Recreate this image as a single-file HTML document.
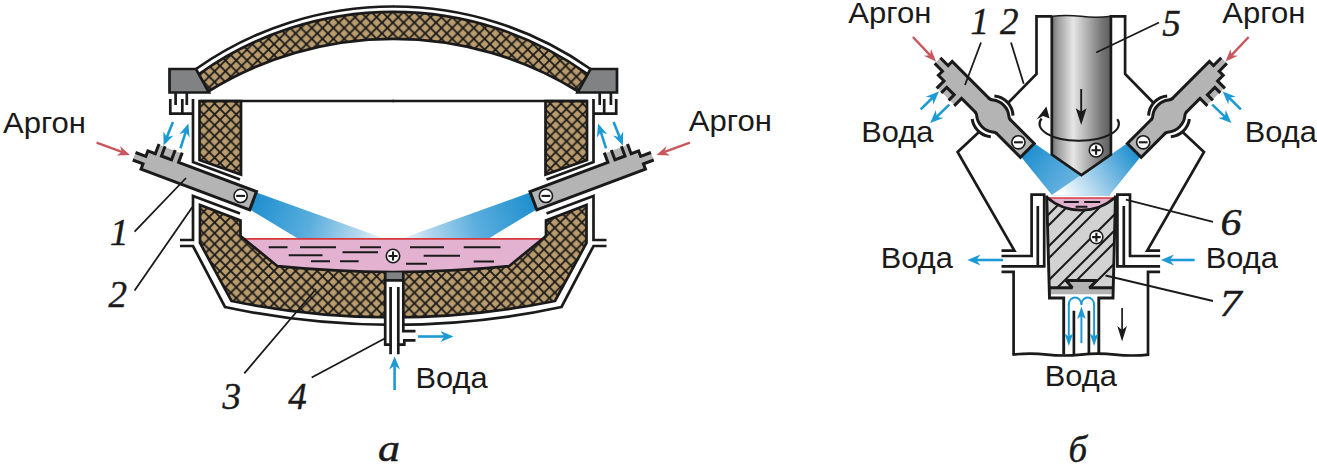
<!DOCTYPE html>
<html><head><meta charset="utf-8">
<style>
html,body{margin:0;padding:0;background:#fff;}
body{width:1317px;height:467px;overflow:hidden;}
svg{display:block;}
.sans{font-family:"Liberation Sans",sans-serif;font-size:29.8px;fill:#1a1a1a;}
.ser{font-family:"Liberation Serif",serif;font-style:italic;font-size:37px;fill:#1a1a1a;stroke:#1a1a1a;stroke-width:0.45px;}
.k{stroke:#1a1a1a;stroke-width:2.7;fill:none;stroke-linecap:butt;stroke-linejoin:miter;}
.ke{stroke:#1a1a1a;stroke-width:3.0;fill:none;stroke-linecap:butt;stroke-linejoin:miter;}
.kt{stroke:#1a1a1a;stroke-width:1.8;fill:none;}
</style></head><body>
<svg width="1317" height="467" viewBox="0 0 1317 467">
<defs>
<pattern id="hatch" width="10.8" height="10.8" patternUnits="userSpaceOnUse" x="4" y="1">
<rect width="10.8" height="10.8" fill="#b99b6c"/>
<path d="M-1,-1 L11.8,11.8 M-1,11.8 L11.8,-1" stroke="#1a1a1a" stroke-width="1.8" fill="none"/>
</pattern>
<linearGradient id="beamL" gradientUnits="userSpaceOnUse" x1="253" y1="201" x2="383" y2="246">
<stop offset="0" stop-color="#1f8fcf"/><stop offset="0.45" stop-color="#5aaedd"/><stop offset="0.8" stop-color="#b5d8ee"/><stop offset="1" stop-color="#f4fafd"/>
</linearGradient>
<linearGradient id="beamR" gradientUnits="userSpaceOnUse" x1="1027" y1="150" x2="1098" y2="199">
<stop offset="0" stop-color="#1f8fcf"/><stop offset="0.3" stop-color="#62b0de"/><stop offset="0.62" stop-color="#acd4ed"/><stop offset="1" stop-color="#ffffff"/>
</linearGradient>
<linearGradient id="beamR1" gradientUnits="userSpaceOnUse" x1="1027" y1="150" x2="1098" y2="199">
<stop offset="0" stop-color="#1f8fcf"/><stop offset="0.4" stop-color="#4fa6da"/><stop offset="1" stop-color="#8cc4e8"/>
</linearGradient>
<linearGradient id="rod" x1="0" y1="0" x2="1" y2="0">
<stop offset="0" stop-color="#6e6e6e"/><stop offset="0.1" stop-color="#9c9c9c"/><stop offset="0.36" stop-color="#e6e6e6"/><stop offset="0.6" stop-color="#b0b0b0"/><stop offset="0.85" stop-color="#757575"/><stop offset="1" stop-color="#5e5e5e"/>
</linearGradient>
<!-- electrode, tip at origin, body along -x, water jacket on -y side -->
<g id="elec">
<path d="M0,-9.75 L-83.2,-9.75 L-83.2,-19.4 L-108,-19.4 L-108,-9.75 L-116,-9.75 L-116,-4 L-127,-4 L-127,4 L-116,4 L-116,9.75 L0,9.75 Z" fill="#b4b4b4"/>
<path class="ke" d="M-83.2,-20.2 L-83.2,-9.75 L0,-9.75 L0,9.75 L-116,9.75 L-116,4 L-127,4 M-127,-4 L-116,-4 L-116,-9.75 L-108,-9.75 L-108,-20.2"/>
</g>
</defs>
<rect width="1317" height="467" fill="#fff"/>

<g id="A">
<path d="M199,74 A334.5,334.5 0 0 1 587.5,74 L577.5,91 A351.5,351.5 0 0 0 209,91 Z" fill="url(#hatch)"/>
<path class="k" style="stroke-width:2.7" d="M199,74 A334.5,334.5 0 0 1 587.5,74 M577.5,91 A351.5,351.5 0 0 0 209,91"/>
<path d="M200,205 L240.5,220.5 V236 L277.5,266.2 A1158,1158 0 0 0 509,266.2 L546,236 V220.5 L586.5,205 V243 L555,301 A810,810 0 0 1 231.5,301 L200,243 Z" fill="url(#hatch)"/>
<path class="k" d="M240.5,236 V220.5 L200,205 V243 L231.5,301 A810,810 0 0 0 555,301 L586.5,243 V205 L546,220.5 V236"/>
<g id="Ahalf">
 <path class="k" style="stroke-width:2.7" d="M196,69 A341.7,341.7 0 0 1 393.5,6.5"/>
 <path d="M169.5,69 L196,69 L209,92.5 L169.5,92.5 Z" class="k" style="fill:#808284"/>
 <path class="k" d="M175.6,92.5 V105 M186.8,92.5 V105 M170.3,99 V113.7 H193 M182.3,99 V113.7"/>
 <path d="M199.5,101 H241 V174.5 L199.5,160 Z" class="k" style="fill:url(#hatch)"/>
 <path class="k" d="M199.5,101 H394"/>
 <path class="k" d="M193,99 V162 L240,179.6 M240,213.6 L193,196 V240 H180 M180,246 H193 L225,307 A800,800 0 0 0 393.5,324.9"/>
</g>
<use href="#Ahalf" transform="translate(786.5,0) scale(-1,1)"/>
<path d="M244,239 L277.5,266.2 A1158,1158 0 0 0 509,266.2 L542.5,239 Z" fill="#e3b2d1"/>
<path d="M244,238.8 H542.5" stroke="#d6383c" stroke-width="1.7" fill="none"/>
<path class="k" d="M240.5,236 L277.5,266.2 A1158,1158 0 0 0 509,266.2 L546,236"/>
<path class="kt" style="stroke-width:1.9" d="M268.7,247.3 H287.5 M300,247.3 H336 M360,247.3 H381 M410,247.3 H444 M463.7,247.3 H500.5 M342.5,252.3 H378 M288.7,255.3 H322.5 M423.7,255.8 H460 M311,261.3 H330 M340,261.3 H358.7 M473.7,261.5 H494 M406,263.8 H427"/>
<path d="M256.5,192.5 L383,238 L297,238 L250,209.5 Z" fill="url(#beamL)"/>
<g transform="translate(786.5,0) scale(-1,1)"><path d="M256.5,192.5 L383,238 L297,238 L250,209.5 Z" fill="url(#beamL)"/></g>
<circle cx="393" cy="256" r="6.7" fill="#fff" stroke="#1a1a1a" stroke-width="1.6"/><path d="M388.5,256 H397.5 M393,251.5 V260.5" stroke="#1a1a1a" stroke-width="2.1" fill="none"/>
<rect x="385" y="280" width="18.3" height="64" fill="#fff"/>
<rect x="385" y="272.4" width="18.3" height="8" fill="#808284"/>
<path class="k" d="M385.2,272 V344.6 H390.6 M403.3,272 V331.2 H415.5 M415.5,340.3 H404.3 V344.6 H398.3 M390.6,287 V354.3 M398.3,287 V354.3 M385.2,280.4 H403.3"/>
<g transform="translate(253.1,200.7) rotate(20.5)"><use href="#elec"/><path class="ke" d="M-101.5,-20.2 L-101.5,-9.75 L-90.7,-9.75 L-90.7,-20.2"/></g>
<g transform="translate(533.4,200.7) scale(-1,1) rotate(20.5)"><use href="#elec"/><path class="ke" d="M-101.5,-20.2 L-101.5,-9.75 L-90.7,-9.75 L-90.7,-20.2"/></g>
<circle cx="240.6" cy="195.9" r="6.6" fill="#fff" stroke="#1a1a1a" stroke-width="1.6"/><path d="M236.2,195.9 H245.0" stroke="#1a1a1a" stroke-width="2.1" fill="none"/>
<circle cx="545.9" cy="195.9" r="6.6" fill="#fff" stroke="#1a1a1a" stroke-width="1.6"/><path d="M541.5,195.9 H550.3" stroke="#1a1a1a" stroke-width="2.1" fill="none"/>
<g transform="translate(163.6,145.5) rotate(111.6)"><path d="M-25.3,0 H-8.5" stroke="#1c9ad6" stroke-width="2.6" fill="none"/><path d="M0,0 L-13,5.4 L-9,0 L-13,-5.4 Z" fill="#1c9ad6"/></g><g transform="translate(188.4,123.5) rotate(-72.3)"><path d="M-26.2,0 H-8.5" stroke="#1c9ad6" stroke-width="2.6" fill="none"/><path d="M0,0 L-13,5.4 L-9,0 L-13,-5.4 Z" fill="#1c9ad6"/></g>
<g transform="translate(786.5,0) scale(-1,1)"><g transform="translate(163.6,145.5) rotate(111.6)"><path d="M-25.3,0 H-8.5" stroke="#1c9ad6" stroke-width="2.6" fill="none"/><path d="M0,0 L-13,5.4 L-9,0 L-13,-5.4 Z" fill="#1c9ad6"/></g><g transform="translate(188.4,123.5) rotate(-72.3)"><path d="M-26.2,0 H-8.5" stroke="#1c9ad6" stroke-width="2.6" fill="none"/><path d="M0,0 L-13,5.4 L-9,0 L-13,-5.4 Z" fill="#1c9ad6"/></g></g>
<g transform="translate(130.0,155.0) rotate(20.2)"><path d="M-35.6,0 H-8.0" stroke="#c8585d" stroke-width="2.4" fill="none"/><path d="M0,0 L-12.5,5 L-8.5,0 L-12.5,-5 Z" fill="#c8585d"/></g>
<g transform="translate(786.5,0) scale(-1,1)"><g transform="translate(130.0,155.0) rotate(20.2)"><path d="M-35.6,0 H-8.0" stroke="#c8585d" stroke-width="2.4" fill="none"/><path d="M0,0 L-12.5,5 L-8.5,0 L-12.5,-5 Z" fill="#c8585d"/></g></g>
<g transform="translate(453.5,336.5) rotate(0.0)"><path d="M-35.5,0 H-8.5" stroke="#1c9ad6" stroke-width="2.6" fill="none"/><path d="M0,0 L-13,5.4 L-9,0 L-13,-5.4 Z" fill="#1c9ad6"/></g>
<g transform="translate(394.6,356.5) rotate(-90.0)"><path d="M-33.5,0 H-8.5" stroke="#1c9ad6" stroke-width="2.6" fill="none"/><path d="M0,0 L-13,5.4 L-9,0 L-13,-5.4 Z" fill="#1c9ad6"/></g>
<path class="kt" d="M186,178 L134.6,231.7 M192.4,207 L134.6,290.4 M316,289 L244.3,373.3 M384.2,338.7 L311.7,377.5"/>
<text class="sans" x="3" y="133" textLength="83" lengthAdjust="spacingAndGlyphs">Аргон</text>
<text class="sans" x="688.8" y="131" textLength="83" lengthAdjust="spacingAndGlyphs">Аргон</text>
<text class="sans" x="415.5" y="388" textLength="72" lengthAdjust="spacingAndGlyphs">Вода</text>
<text class="ser" x="110" y="244.8">1</text>
<text class="ser" x="108.5" y="306.8">2</text>
<text class="ser" x="222.5" y="408.6">3</text>
<text class="ser" x="288.3" y="408.6">4</text>
<text class="ser" x="378" y="460.7" textLength="22" lengthAdjust="spacingAndGlyphs">а</text>
</g>
<g id="B">
<path d="M1033.9,143 L1110.9,195.8 L1052.5,195.8 L1021,156.8 Z" fill="url(#beamR1)"/>
<g transform="translate(2161.6,0) scale(-1,1)"><path d="M1033.9,143 L1110.9,195.8 L1052.5,195.8 L1021,156.8 Z" fill="url(#beamR)"/></g>
<path d="M1051.8,16.3 Q1066,14.5 1081,16.3 T1110.9,16.3 V154.6 L1081.4,175 L1051.8,154.6 Z" fill="url(#rod)"/>
<path class="k" d="M1051.8,16.3 V154.6 L1081.4,175 L1110.9,154.6 V16.3"/>
<path class="kt" d="M1051.8,16.3 Q1066,14.5 1081,16.3 T1110.9,16.3" style="stroke-width:1.5"/>
<path class="kt" d="M1117.3,119.2 A39.7,16.8 0 1 1 1041.6,118.5" style="stroke-width:2.1"/>
<path d="M1046.4,106.4 L1049.6,118.6 L1043.1,116 L1036.4,119.4 Z" fill="#1a1a1a"/>
<path class="kt" d="M1081.2,89 V112" style="stroke-width:1.9"/><path d="M1081.2,125 L1075.8,108.3 L1081.2,111.8 L1086.6,108.3 Z" fill="#1a1a1a"/>
<circle cx="1096.1" cy="150.2" r="6.8" fill="#fff" stroke="#1a1a1a" stroke-width="1.6"/><path d="M1091.5,150.2 H1100.7 M1096.1,145.6 V154.8" stroke="#1a1a1a" stroke-width="2.1" fill="none"/>
<g id="Bhalf">
 <path class="k" d="M1052,16.3 H1036.5 V74 L1007.5,103.5"/>
 <path class="ke" d="M994.4,95.9 A20.5,20.5 0 0 1 1013,115.6 M990.8,136.7 A20.5,20.5 0 0 1 972.2,119"/>
 <path class="k" d="M979,132 L957.6,152 L1014.4,250.7 H1001.5"/>
 <g transform="translate(1027.3,150.4) rotate(45) scale(1,-1)">
  <use href="#elec"/><path class="ke" d="M-101.5,-20.2 L-101.5,-12.4 L-91,-12.4 L-91,-20.2"/>
  <path d="M-63.5,-9.75 C-59.5,-9.75 -59.6,-15.3 -48.8,-15.3 C-38,-15.3 -38.1,-9.75 -34.1,-9.75 L-34.1,9.75 C-38.1,9.75 -38,15.3 -48.8,15.3 C-59.6,15.3 -59.5,9.75 -63.5,9.75 Z" fill="#b4b4b4"/>
  <path d="M-62,-9.75 H-35.6 M-62,9.75 H-35.6" stroke="#b4b4b4" stroke-width="4"/>
  <path class="ke" d="M-64.5,-9.75 H-63.5 C-59.5,-9.75 -59.6,-15.3 -48.8,-15.3 C-38,-15.3 -38.1,-9.75 -34.1,-9.75 H-33.1 M-64.5,9.75 H-63.5 C-59.5,9.75 -59.6,15.3 -48.8,15.3 C-38,15.3 -38.1,9.75 -34.1,9.75 H-33.1"/>
 </g>
 <path class="k" d="M1001.5,256 H1031.6 V194.6 H1044.2 V266.3 H1001.5 M1037.8,206 V266.3"/>
 <path class="k" d="M1001.5,271.8 H1013.6 V354.6"/>
<g transform="translate(938.9,91.6) rotate(-44.2)"><path d="M-25.4,0 H-8.5" stroke="#1c9ad6" stroke-width="2.6" fill="none"/><path d="M0,0 L-13,5.4 L-9,0 L-13,-5.4 Z" fill="#1c9ad6"/></g><g transform="translate(930.2,123.0) rotate(136.1)"><path d="M-26.5,0 H-8.5" stroke="#1c9ad6" stroke-width="2.6" fill="none"/><path d="M0,0 L-13,5.4 L-9,0 L-13,-5.4 Z" fill="#1c9ad6"/></g><g transform="translate(936.0,61.4) rotate(46.6)"><path d="M-33.6,0 H-8.0" stroke="#c8585d" stroke-width="2.4" fill="none"/><path d="M0,0 L-12.5,5 L-8.5,0 L-12.5,-5 Z" fill="#c8585d"/></g></g>
<use href="#Bhalf" transform="translate(2161.6,0) scale(-1,1)"/>
<circle cx="1018.4" cy="142.3" r="6.6" fill="#fff" stroke="#1a1a1a" stroke-width="1.6"/><path d="M1014.0,142.3 H1022.8" stroke="#1a1a1a" stroke-width="2.1" fill="none"/>
<circle cx="1143.1999999999998" cy="142.3" r="6.6" fill="#fff" stroke="#1a1a1a" stroke-width="1.6"/><path d="M1138.8,142.3 H1147.6" stroke="#1a1a1a" stroke-width="2.1" fill="none"/>
<clipPath id="ingc"><path d="M1046.8,198 L1049.4,288 H1113.1 L1115.4,198 Z"/></clipPath>
<path d="M1046.8,198 L1049.4,288 H1113.1 L1115.4,198 Z" fill="#d2d2d2"/>
<path clip-path="url(#ingc)" d="M1040,223 L1122,141 M1040,234 L1122,152 M1040,255 L1122,173 M1040,267 L1122,185 M1040,289 L1122,207 M1040,305 L1122,223 M1040,317 L1122,235 M1040,338 L1122,256" stroke="#1a1a1a" stroke-width="2.0" fill="none"/>
<path d="M1049.4,288 H1113.1 V294.2 H1049.4 Z" fill="#b4b4b4"/>
<path d="M1066,280.5 H1096.8 L1089.4,288.5 H1072.4 Z" fill="#b4b4b4"/>
<path class="k" d="M1049.4,287.7 H1072.4 L1066,280.5 H1096.8 L1089.4,287.7 H1113.1" style="stroke-width:2.9;stroke-linejoin:bevel"/>
<path d="M1046.5,198 A52,52 0 0 0 1115.6,198 Z" fill="#e3b2d1"/>
<path d="M1046.5,198 H1115.6" stroke="#d6383c" stroke-width="1.7"/>
<path class="k" d="M1046.5,197 A52,52 0 0 0 1115.6,197" style="stroke-width:2.8"/>
<path class="kt" style="stroke-width:1.9" d="M1063.8,202 H1078.8 M1084.2,202 H1100.2 M1075.6,206.8 H1087.4"/>
<path class="k" d="M1046.7,195.5 L1049.5,298 H1063.7 V354.6 M1115.5,195.5 L1113,298 H1098.8 V354.6" style="stroke-width:2.9"/>
<path class="k" d="M1073.9,310.8 V354.6 M1088.9,310.8 V354.6"/>
<circle cx="1096.4" cy="237.1" r="6.5" fill="#fff" stroke="#1a1a1a" stroke-width="1.6"/><path d="M1092.1,237.1 H1100.7 M1096.4,232.8 V241.4" stroke="#1a1a1a" stroke-width="2.1" fill="none"/>
<path class="k" d="M1012.4,354.6 Q1030,352.8 1047,354.6 T1081,354.6 T1115,354.6 T1149.2,354.6"/>
<path d="M1081.4,305 C1081.4,295 1068.8,295 1068.8,305 M1081.4,305 C1081.4,295 1094.1,295 1094.1,305" stroke="#1c9ad6" stroke-width="1.9" fill="none"/>
<g transform="translate(1081.4,306.5) rotate(-90.0)"><path d="M-36.5,0 H-9.0" stroke="#1c9ad6" stroke-width="2.0" fill="none"/><path d="M0,0 L-12.5,4.3 L-9.5,0 L-12.5,-4.3 Z" fill="#1c9ad6"/></g>
<g transform="translate(1068.8,346.0) rotate(90.0)"><path d="M-42.0,0 H-9.0" stroke="#1c9ad6" stroke-width="2.0" fill="none"/><path d="M0,0 L-12.5,4.3 L-9.5,0 L-12.5,-4.3 Z" fill="#1c9ad6"/></g>
<g transform="translate(1094.1,346.0) rotate(90.0)"><path d="M-42.0,0 H-9.0" stroke="#1c9ad6" stroke-width="2.0" fill="none"/><path d="M0,0 L-12.5,4.3 L-9.5,0 L-12.5,-4.3 Z" fill="#1c9ad6"/></g>
<path class="kt" d="M1122.1,308 V331" style="stroke-width:1.7"/><path d="M1122.1,341.5 L1117.3,326 L1122.1,330 L1126.9,326 Z" fill="#1a1a1a"/>
<g transform="translate(967.4,260.0) rotate(180.0)"><path d="M-35.6,0 H-8.5" stroke="#1c9ad6" stroke-width="2.6" fill="none"/><path d="M0,0 L-13,5.4 L-9,0 L-13,-5.4 Z" fill="#1c9ad6"/></g>
<g transform="translate(1160.9,260.0) rotate(180.0)"><path d="M-33.8,0 H-8.5" stroke="#1c9ad6" stroke-width="2.6" fill="none"/><path d="M0,0 L-13,5.4 L-9,0 L-13,-5.4 Z" fill="#1c9ad6"/></g>
<path class="kt" d="M981,42.5 L965,85 M1011,42.5 L1023.7,83.7 M1096.2,52.5 L1159,22.5 M1125.9,199.7 L1213,221.8 M1105.5,275.5 L1213,301"/>
<text class="sans" x="848.3" y="23.1" textLength="83" lengthAdjust="spacingAndGlyphs">Аргон</text>
<text class="sans" x="1222.3" y="23.1" textLength="83" lengthAdjust="spacingAndGlyphs">Аргон</text>
<text class="sans" x="861.3" y="141.5" textLength="72" lengthAdjust="spacingAndGlyphs">Вода</text>
<text class="sans" x="1244.8" y="142.2" textLength="72" lengthAdjust="spacingAndGlyphs">Вода</text>
<text class="sans" x="880.8" y="267.8" textLength="72" lengthAdjust="spacingAndGlyphs">Вода</text>
<text class="sans" x="1205.8" y="267.8" textLength="72" lengthAdjust="spacingAndGlyphs">Вода</text>
<text class="sans" x="1044.8" y="385.8" textLength="72" lengthAdjust="spacingAndGlyphs">Вода</text>
<text class="ser" x="970.5" y="34.2">1</text>
<text class="ser" x="1000" y="34.2">2</text>
<text class="ser" x="1162.3" y="36.4">5</text>
<text class="ser" x="1220.5" y="234.5" textLength="21" lengthAdjust="spacingAndGlyphs">6</text>
<text class="ser" x="1219.5" y="315.5" textLength="22" lengthAdjust="spacingAndGlyphs">7</text>
<text class="ser" x="1068.5" y="461.8">б</text>
</g>
</svg>
</body></html>
